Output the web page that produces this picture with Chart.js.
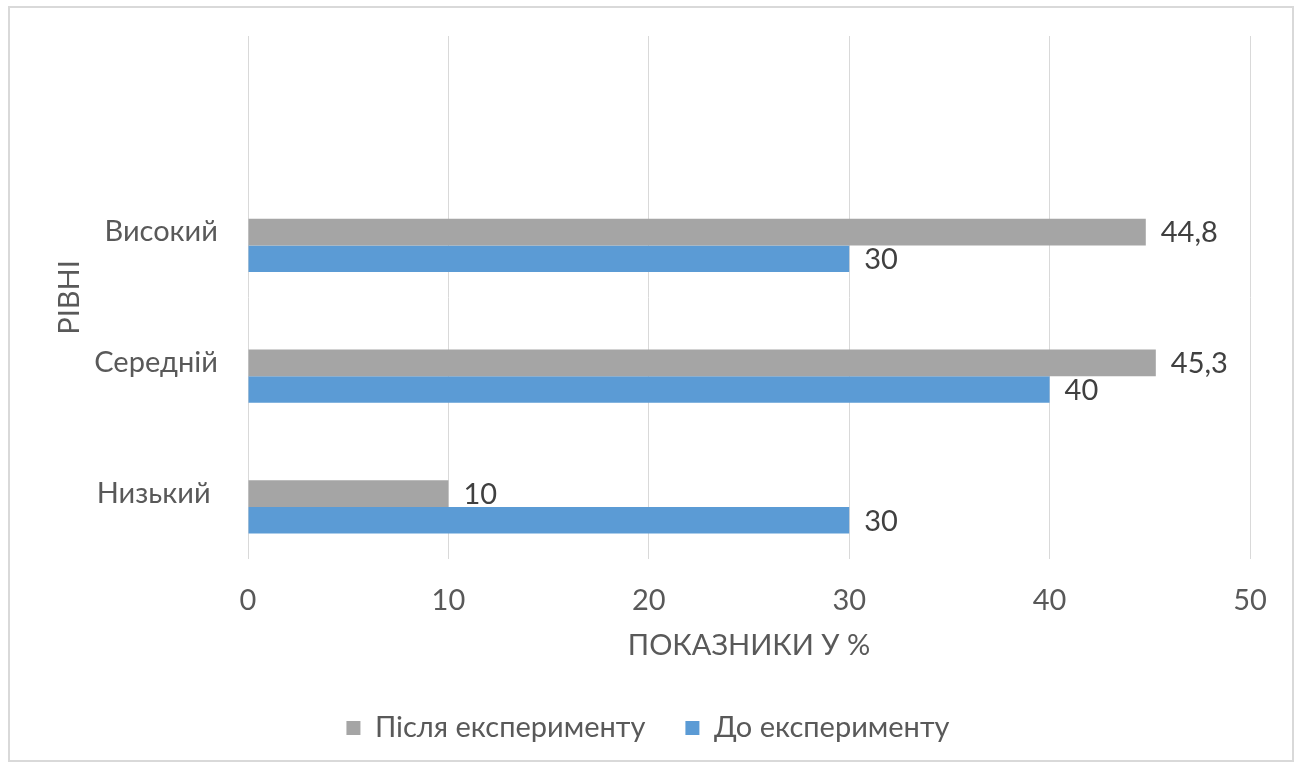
<!DOCTYPE html>
<html>
<head>
<meta charset="utf-8">
<script src="https://cdn.jsdelivr.net/npm/chart.js@4/dist/chart.umd.min.js"></script>
<style>
    html, body { margin: 0; padding: 0; background: #fff; }
    #wrap { position: relative; width: 1300px; height: 767px; }
    #frame { position: absolute; left: 8px; top: 6px; width: 1286px; height: 756px; border: 2px solid #d9d9d9; box-sizing: border-box; pointer-events: none; }
</style>
</head>
<body>
<div id="wrap">
    <canvas id="levels" width="1300" height="767"></canvas>
    <div id="frame"></div>
</div>
<script>
    // рівні (зверху вниз, верхня категорія порожня)
    const levels = ['', 'Високий', 'Середній', 'Низький '];
    const afterValues = [null, 44.8, 45.3, 10];   // Після експерименту
    const beforeValues = [null, 30, 40, 30];      // До експерименту
    const xTicks = [0, 10, 20, 30, 40, 50];

    const FONT = "Lato, 'Open Sans', sans-serif";
    const FONT_SIZE = 29;

    // підписи значень біля кінця стовпця
    const valueLabels = {
        id: 'valueLabels',
        afterDatasetsDraw(chart) {
            const ctx = chart.ctx;
            ctx.save();
            ctx.font = FONT_SIZE + 'px ' + FONT;
            ctx.fillStyle = '#404040';
            ctx.textAlign = 'left';
            ctx.textBaseline = 'middle';
            chart.data.datasets.forEach((ds, i) => {
                if (!ds.showValues) return;
                chart.getDatasetMeta(i).data.forEach((bar, j) => {
                    const v = ds.data[j];
                    if (v == null) return;
                    ctx.fillText(String(v).replace('.', ','), bar.x + 15, bar.y + 1);
                });
            });
            ctx.restore();
        }
    };

    new Chart(document.getElementById('levels'), {
        type: 'bar',
        data: {
            labels: levels,
            datasets: [{
                label: '',
                data: [null, null, null, null],
                backgroundColor: 'rgba(0,0,0,0)',
                showValues: false
            }, {
                label: 'Після експерименту',
                data: afterValues,
                backgroundColor: '#A5A5A5',
                showValues: true
            }, {
                label: 'До експерименту',
                data: beforeValues,
                backgroundColor: '#5B9BD5',
                showValues: true
            }]
        },
        options: {
            indexAxis: 'y',
            responsive: false,
            animation: false,
            datasets: {
                bar: {
                    categoryPercentage: 0.61,
                    barPercentage: 1.0
                }
            },
            layout: {
                padding: { left: 46, right: 50, top: 36, bottom: 14.5 }
            },
            scales: {
                x: {
                    min: 0,
                    max: 50,
                    afterBuildTicks: (scale) => { scale.ticks = xTicks.map(v => ({ value: v })); },
                    grid: { color: '#d9d9d9', lineWidth: 1, drawTicks: false },
                    border: { display: false },
                    ticks: { color: '#595959', font: { family: FONT, size: FONT_SIZE }, padding: 24 },
                    title: {
                        display: true,
                        text: 'ПОКАЗНИКИ У %',
                        color: '#595959',
                        font: { family: FONT, size: FONT_SIZE },
                        padding: { top: 0, bottom: 10 }
                    },
                    afterFit: (scale) => { scale.height = 114.5; }
                },
                y: {
                    grid: { display: false },
                    border: { display: false },
                    ticks: { color: '#595959', font: { family: FONT, size: FONT_SIZE }, padding: 22 },
                    title: {
                        display: true,
                        text: 'РІВНІ',
                        color: '#595959',
                        font: { family: FONT, size: FONT_SIZE },
                        padding: { top: 6, bottom: 6 }
                    },
                    afterFit: (scale) => {
                        scale.width = 202;
                        scale.paddingTop = 0;
                        scale.paddingBottom = 0;
                    }
                }
            },
            plugins: {
                legend: {
                    position: 'bottom',
                    labels: {
                        color: '#595959',
                        font: { family: FONT, size: FONT_SIZE },
                        boxWidth: 14,
                        boxHeight: 14,
                        padding: 40,
                        filter: (item) => item.text !== ''
                    }
                },
                tooltip: { enabled: false }
            }
        },
        plugins: [valueLabels]
    });
</script>
</body>
</html>
